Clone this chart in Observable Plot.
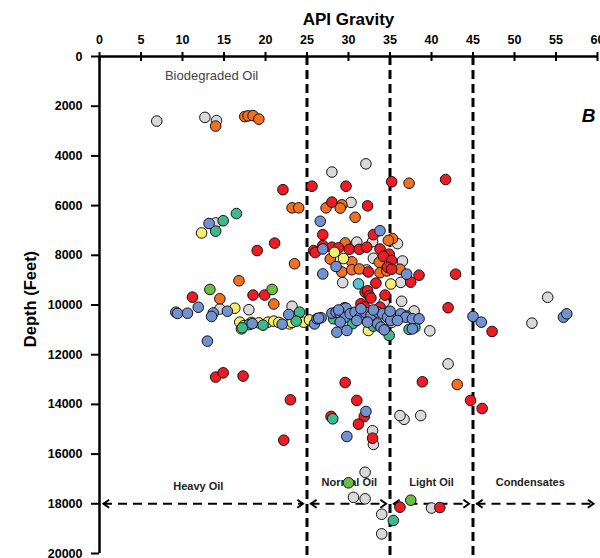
<!DOCTYPE html>
<html>
<head>
<meta charset="utf-8">
<script src="https://cdn.jsdelivr.net/npm/d3@7"></script>
<script src="https://cdn.jsdelivr.net/npm/@observablehq/plot@0.6"></script>
<style>
  html, body { margin: 0; padding: 0; background: #fff; }
  #chart { width: 600px; height: 558px; overflow: hidden; }
</style>
</head>
<body>
<div id="chart"></div>
<script>
// ---- tick labels ----
const xTicks = [0, 5, 10, 15, 20, 25, 30, 35, 40, 45, 50, 55, 60];
const yTicks = [0, 2000, 4000, 6000, 8000, 10000, 12000, 14000, 16000, 18000, 20000];

// ---- oil class boundaries and zones ----
const boundaries = [25, 35, 45];
const zoneNames = ["Heavy Oil", "Normal Oil", "Light Oil", "Condensates"];
const zoneStart = [0, 25, 35, 45];
const zoneEnd = [25, 35, 45, 60];
const zoneLabelApi = [11.9, 30.1, 40.0, 51.9];
const zoneDepth = 18000;

// ---- samples by colour: [API gravity, depth (ft)] ----
const graySamples = [[6.9,2600],[12.7,2450],[14.1,2580],[28.0,4650],[32.1,4320],[30.3,5870],[14.0,6700],[35.9,7530],[31.0,7470],[32.9,7450],[33.0,8120],[36.5,8230],[32.2,8590],[29.3,9100],[36.3,9090],[34.3,9880],[36.4,9850],[37.9,10240],[23.2,10050],[14.5,10160],[18.0,10190],[39.8,11040],[52.1,10730],[54.0,9690],[42.0,12370],[38.7,14450],[36.7,14600],[36.2,14450],[32.9,15060],[33.0,15610],[32.0,16730],[30.6,17740],[32.0,17800],[34.0,18420],[34.0,19210],[40.0,18170]];
const orangeSamples = [[14.0,2800],[17.5,2420],[17.9,2390],[18.5,2380],[19.2,2520],[23.2,6090],[24.0,6090],[27.3,6090],[29.2,5970],[29.0,6100],[30.8,6470],[37.3,5100],[35.3,7330],[34.8,7400],[29.6,7505],[27.8,8150],[30.4,8260],[33.7,8280],[29.2,8670],[30.4,8580],[31.3,8550],[33.8,8700],[34.6,8630],[36.2,8560],[23.5,8340],[16.8,9025],[14.5,9750],[21.0,9960],[43.1,13200]];
const redSamples = [[22.1,5360],[25.6,5220],[29.7,5220],[35.2,5040],[41.7,4950],[28.0,5860],[32.3,6010],[26.9,7170],[33.0,7170],[21.1,7510],[19.0,7810],[25.8,7810],[26.9,7605],[26.0,7890],[28.0,7675],[28.8,7700],[30.1,7760],[31.3,7760],[32.2,7675],[33.8,7750],[34.9,7955],[34.2,8040],[35.2,8210],[34.7,8480],[35.2,8560],[32.4,8670],[37.5,9080],[38.5,8800],[33.3,9120],[42.9,8760],[32.0,9480],[32.3,9430],[32.5,9620],[32.7,9720],[34.4,9600],[31.5,9950],[31.9,10070],[33.8,10090],[42.0,10110],[11.2,9685],[18.5,9600],[19.9,9600],[47.3,11065],[14.0,12900],[14.9,12730],[17.3,12860],[29.6,13120],[23.0,13815],[31.0,13840],[31.9,14485],[27.9,14485],[31.2,14795],[32.9,15360],[22.2,15440],[38.9,13090],[44.7,13840],[46.1,14165],[36.2,18135],[41.0,18150]];
const yellowSamples = [[12.3,7100],[28.3,7880],[29.4,8130],[35.1,9155],[16.3,10130],[16.9,10690],[17.1,10960],[17.4,10830],[18.3,10700],[19.2,10720],[20.3,10690],[21.0,10650],[21.6,10700],[22.9,10760],[23.2,10700],[24.6,10690],[25.3,10600],[32.4,11025],[31.0,10300],[35.2,10700],[38.0,10700]];
const tealSamples = [[16.5,6320],[14.9,6610],[14.0,7030],[24.1,10290],[18.0,10790],[19.7,10810],[17.2,10920],[23.7,10650],[28.2,10555],[29.5,10115],[30.5,10750],[33.0,10850],[37.0,10440],[38.0,10900],[37.3,10980],[36.4,10390],[34.9,11225],[28.1,14580],[35.4,18670]];
const blueSamples = [[13.2,6720],[26.6,6630],[33.8,7010],[26.9,7745],[28.5,8450],[26.9,8750],[37.0,8760],[9.2,10290],[9.4,10340],[10.6,10330],[11.9,10090],[13.0,11455],[13.7,10320],[13.5,10460],[15.4,10250],[22.8,10380],[18.4,10750],[22.0,10770],[25.9,10760],[26.2,10555],[26.7,10515],[28.0,10330],[28.5,10290],[29.0,10355],[29.7,10125],[29.6,10490],[30.2,10355],[30.8,10290],[31.4,10490],[32.0,10290],[32.7,10420],[33.5,10290],[34.1,10355],[34.7,10490],[35.5,10490],[36.3,10355],[36.9,10490],[37.7,10555],[38.5,10555],[26.4,10530],[29.0,10690],[31.0,10625],[32.3,10690],[33.5,10760],[35.1,10625],[35.9,10625],[37.7,10960],[28.6,11095],[29.8,11025],[33.9,10890],[34.3,11000],[31.5,10150],[33.0,10200],[28.8,10200],[35.0,10250],[45.0,10460],[46.0,10690],[55.9,10490],[56.3,10355],[32.1,14285],[29.8,15290]];
const greenSamples = [[13.3,9375],[20.8,9375],[30.0,17155],[37.5,17855]];
const cyanSamples = [[31.2,9150]];

const seriesNames = ["Group 1", "Group 2", "Group 3", "Group 4", "Group 5", "Group 6", "Group 7", "Group 8"];
const seriesColors = ["#d9d9d9", "#f36f21", "#ed1c24", "#f7ed6e", "#3fb98b", "#7191d0", "#6cbd45", "#4fc4d8"];
const seriesData = [graySamples, orangeSamples, redSamples, yellowSamples, tealSamples, blueSamples, greenSamples, cyanSamples];

const samples = seriesData.flatMap((arr, i) => arr.map(([api, depth]) => ({api, depth, series: seriesNames[i]})));
const zones = zoneNames.map((name, i) => ({name, start: zoneStart[i], end: zoneEnd[i], labelApi: zoneLabelApi[i]}));
const heavyZone = zones.filter(d => d.name === "Heavy Oil");
const otherZones = zones.filter(d => d.name !== "Heavy Oil");

// chevron symbols for the zone arrows (tip at origin)
const chevronLeft = {draw(ctx, size) { const h = Math.sqrt(size / Math.PI); ctx.moveTo(1.4 * h, -h); ctx.lineTo(0, 0); ctx.lineTo(1.4 * h, h); }};
const chevronRight = {draw(ctx, size) { const h = Math.sqrt(size / Math.PI); ctx.moveTo(-1.4 * h, -h); ctx.lineTo(0, 0); ctx.lineTo(-1.4 * h, h); }};

const font = "Liberation Sans, Arial, Helvetica, sans-serif";

const chart = Plot.plot({
  width: 600,
  height: 558,
  marginTop: 56,
  marginLeft: 99,
  marginRight: 3,
  marginBottom: 5,
  style: {fontFamily: font, background: "#fff", overflow: "visible"},
  x: {domain: [0, 60]},
  y: {domain: [0, 20000], reverse: true},
  color: {type: "ordinal", domain: seriesNames, range: seriesColors},
  marks: [
    // class boundaries
    Plot.ruleX(boundaries, {x: d => d, stroke: "#000", strokeWidth: 3, strokeDasharray: "9,5", insetBottom: -8}),
    // zone arrows
    Plot.ruleY(zones, {y: () => zoneDepth, x1: "start", x2: "end", insetLeft: 4, insetRight: 4, stroke: "#000", strokeWidth: 2, strokeDasharray: "9,6"}),
    Plot.dot(zones, {x: "start", y: () => zoneDepth, symbol: chevronLeft, r: 4, fill: "none", stroke: "#000", strokeWidth: 2, dx: 4}),
    Plot.dot(zones, {x: "end", y: () => zoneDepth, symbol: chevronRight, r: 4, fill: "none", stroke: "#000", strokeWidth: 2, dx: -4}),
    Plot.text(heavyZone, {x: "labelApi", y: () => zoneDepth, text: "name", dy: -17.5, fontWeight: "bold", fontSize: 11, fill: "#222"}),
    Plot.text(otherZones, {x: "labelApi", y: () => zoneDepth, text: "name", dy: -21, fontWeight: "bold", fontSize: 11, fill: "#222"}),
    // annotations
    Plot.text(["Biodegraded Oil"], {x: () => 13.5, y: () => 770, text: d => d, fontSize: 13, fill: "#444"}),
    Plot.text(["B"], {x: () => 58.1, y: () => 2380, text: d => d, textAnchor: "start", fontSize: 19, fontWeight: "bold", fontStyle: "italic", fill: "#000"}),
    // samples
    Plot.dot(samples, {x: "api", y: "depth", fill: "series", r: 5.3, stroke: "#111", strokeWidth: 1}),
    // axes
    Plot.ruleY([0], {stroke: "#000", strokeWidth: 2.5}),
    Plot.ruleX([0], {stroke: "#000", strokeWidth: 2.5}),
    Plot.axisX({anchor: "top", ticks: xTicks, tickSize: 9, dy: 4, tickPadding: 8, strokeWidth: 2, fontSize: 12.5, fontWeight: "bold", fill: "#000", label: null, tickFormat: d => String(d)}),
    Plot.axisY({anchor: "left", ticks: yTicks, tickSize: 8, tickPadding: 9, strokeWidth: 2, fontSize: 12.5, fontWeight: "bold", fill: "#000", label: null, tickFormat: d => String(d)}),
    Plot.text(["API Gravity"], {frameAnchor: "top", dy: -37, lineAnchor: "middle", textAnchor: "middle", text: d => d, fontSize: 17, fontWeight: "bold", fill: "#000"}),
    Plot.text(["Depth (Feet)"], {frameAnchor: "left", dx: -69, dy: -6, rotate: -90, textAnchor: "middle", lineAnchor: "middle", text: d => d, fontSize: 16.5, fontWeight: "bold", fill: "#000"})
  ]
});
document.getElementById("chart").appendChild(chart);
</script>
</body>
</html>
